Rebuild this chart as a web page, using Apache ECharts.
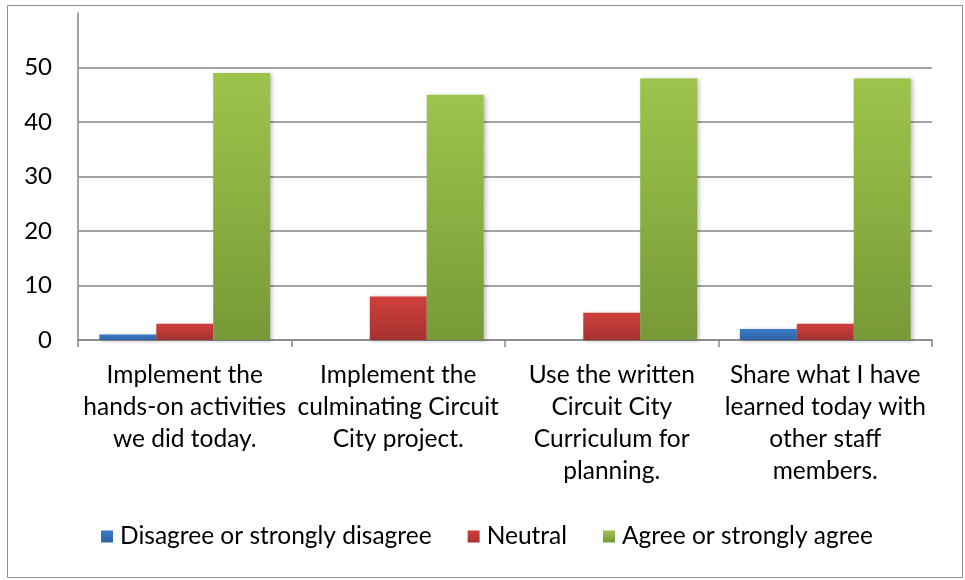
<!DOCTYPE html>
<html>
<head>
<meta charset="utf-8">
<script src="https://cdn.jsdelivr.net/npm/echarts@6/dist/echarts.min.js"></script>
<style>
  html, body { margin: 0; padding: 0; background: #fff; }
  #chart { width: 965px; height: 580px; }
</style>
</head>
<body>
<div id="chart"></div>
<script>
// Survey categories (wrapped as in the original)
const categories = [
  'Implement the\nhands-on activities\nwe did today.',
  'Implement the\nculminating Circuit\nCity project.',
  'Use the written\nCircuit City\nCurriculum for\nplanning.',
  'Share what I have\nlearned today with\nother staff\nmembers.'
];

const seriesNames = ['Disagree or strongly disagree', 'Neutral', 'Agree or strongly agree'];

// Response counts
const disagree = [1, 0, 0, 2];
const neutral = [3, 8, 5, 3];
const agree = [49, 45, 48, 48];

// top / bottom gradient colours per series
const gradients = [
  ['#3c7bca', '#2e62a6'],
  ['#d1403d', '#a53230'],
  ['#9dc44b', '#779a38']
];

const font = 'Lato, "Open Sans", sans-serif';
const axisGray = '#868686';

const chart = echarts.init(document.getElementById('chart'));

const makeSeries = (name, data, idx) => ({
  name: name,
  type: 'bar',
  data: data,
  barGap: '0%',
  barCategoryGap: '20%',
  itemStyle: {
    color: new echarts.graphic.LinearGradient(0, 0, 0, 1, [
      { offset: 0, color: gradients[idx][0] },
      { offset: 1, color: gradients[idx][1] }
    ]),
    shadowBlur: 4,
    shadowColor: 'rgba(0,0,0,0.25)',
    shadowOffsetX: 2,
    shadowOffsetY: 1
  }
});

chart.setOption({
  animation: false,
  textStyle: { fontFamily: font },
  graphic: [{
    type: 'rect',
    shape: { x: 7.5, y: 5.5, width: 955, height: 572 },
    style: { fill: 'none', stroke: '#8c8c8c', lineWidth: 1 },
    silent: true
  }],
  grid: {
    left: 78,
    right: 33,
    top: 13,
    bottom: 240
  },
  legend: {
    data: seriesNames,
    left: 96,
    top: 519,
    icon: 'rect',
    itemWidth: 12,
    itemHeight: 12,
    itemGap: 36,
    textStyle: {
      fontFamily: font,
      fontSize: 24.5,
      color: '#000',
      padding: [0, 0, 0, 2]
    }
  },
  xAxis: {
    type: 'category',
    data: categories,
    axisLine: { lineStyle: { color: axisGray, width: 1.5 } },
    axisTick: { show: true, length: 7, alignWithLabel: false, lineStyle: { color: axisGray, width: 1.5 } },
    axisLabel: {
      interval: 0,
      color: '#000',
      fontFamily: font,
      fontSize: 24.5,
      lineHeight: 32,
      margin: 19,
      align: 'center'
    }
  },
  yAxis: {
    type: 'value',
    min: 0,
    max: 60,
    interval: 10,
    axisLine: { show: true, lineStyle: { color: axisGray, width: 1.5 } },
    axisTick: { show: false },
    splitLine: { show: true, showMaxLine: false, lineStyle: { color: axisGray, width: 1.5 } },
    axisLabel: {
      showMaxLabel: false,
      color: '#000',
      fontFamily: font,
      fontSize: 24,
      margin: 26
    }
  },
  series: [
    makeSeries(seriesNames[0], disagree, 0),
    makeSeries(seriesNames[1], neutral, 1),
    makeSeries(seriesNames[2], agree, 2)
  ]
});
</script>
</body>
</html>
